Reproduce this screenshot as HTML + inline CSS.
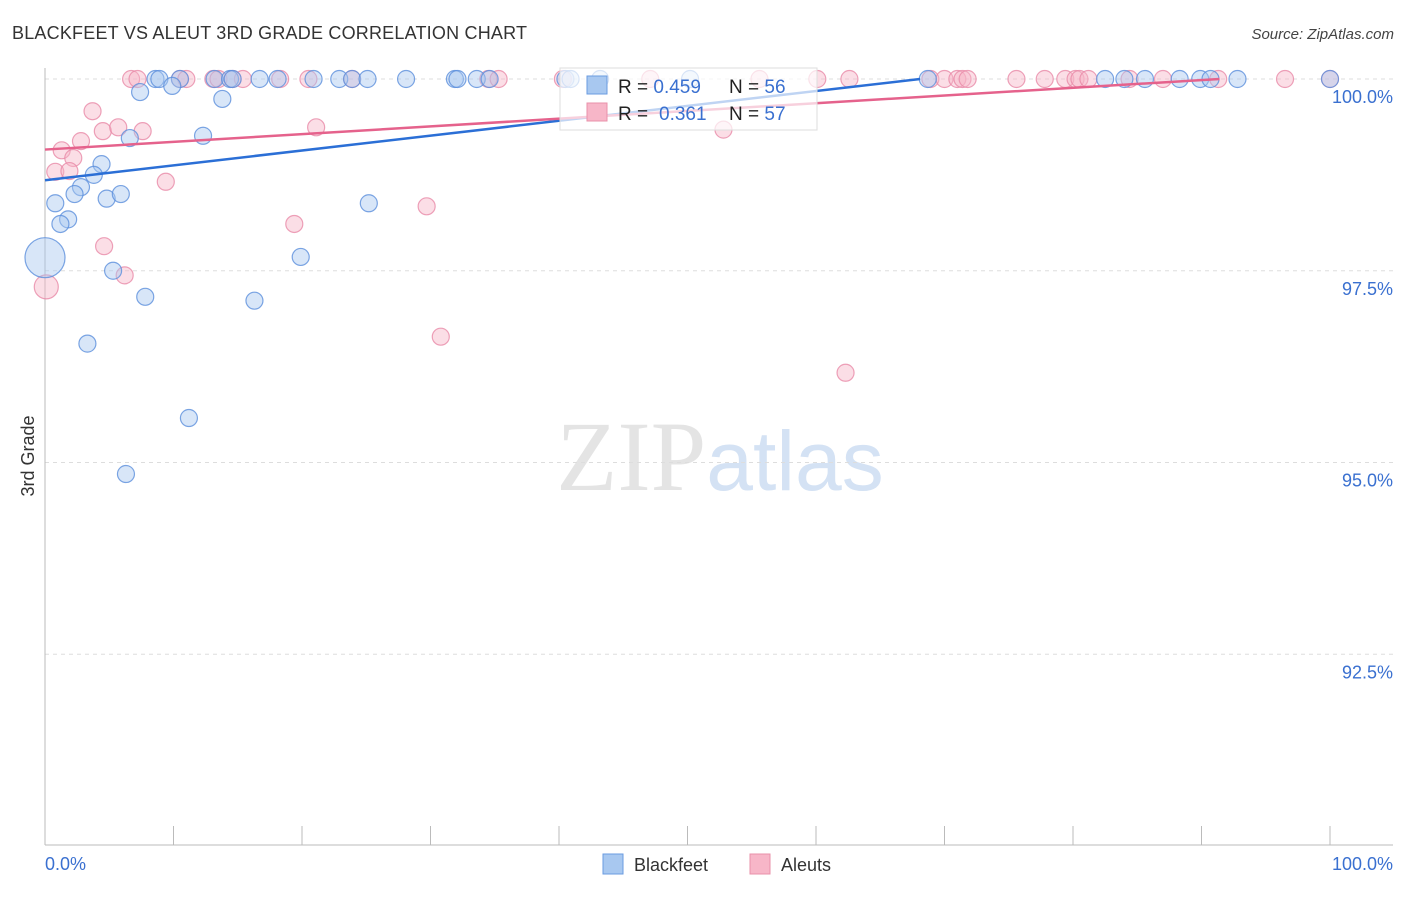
<!DOCTYPE html>
<html><head><meta charset="utf-8"><style>
body{margin:0;background:#fff;font-family:"Liberation Sans",sans-serif;}
svg text{font-family:"Liberation Sans",sans-serif;}
</style></head><body>
<svg id="chart" width="1406" height="892" xmlns="http://www.w3.org/2000/svg">
<text x="12" y="39" font-size="18" fill="#333" textLength="515">BLACKFEET VS ALEUT 3RD GRADE CORRELATION CHART</text>
<text x="1394" y="39" font-size="15" fill="#444" text-anchor="end" font-style="italic">Source: ZipAtlas.com</text>
<text x="720" y="490" font-size="100" text-anchor="middle" fill="#e4e4e4"><tspan font-family="Liberation Serif">ZIP</tspan><tspan fill="#d4e2f4" font-size="84">atlas</tspan></text>
<g id="grid"></g>
<g id="axes"></g>
<g id="pts"></g>
<g id="lines"></g>
<text transform="translate(34,456) rotate(-90)" font-size="18" fill="#333" text-anchor="middle">3rd Grade</text>
<g>
<rect x="560" y="68" width="257" height="62" fill="#fff" fill-opacity="0.7" stroke="#ddd"/>
<rect x="587" y="76" width="20" height="18" fill="#a8c8f0" stroke="#6a9be0"/>
<text x="618" y="93" font-size="19" fill="#222">R = <tspan fill="#3a70d0">0.459</tspan></text>
<text x="729" y="93" font-size="19" fill="#222">N = <tspan fill="#3a70d0">56</tspan></text>
<rect x="587" y="103" width="20" height="18" fill="#f7b6c8" stroke="#e890aa"/>
<text x="618" y="120" font-size="19" fill="#222">R = <tspan x="659" fill="#3a70d0">0.361</tspan></text>
<text x="729" y="120" font-size="19" fill="#222">N = <tspan fill="#3a70d0">57</tspan></text>
</g>
<g>
<rect x="603" y="854" width="20" height="20" fill="#a8c8f0" stroke="#6a9be0"/>
<text x="634" y="871" font-size="18" fill="#333">Blackfeet</text></g>
<g>
<rect x="750" y="854" width="20" height="20" fill="#f7b6c8" stroke="#e890aa"/>
<text x="781" y="871" font-size="18" fill="#333">Aleuts</text></g>
</svg>
<script>
const yTicks=[100,97.5,95,92.5];
const yTickLabels=["100.0%","97.5%","95.0%","92.5%"];
const bfX=[8.6,8.9,10.5,13.2,14.4,14.6,16.7,18.1,20.9,22.9,23.9,25.1,28.1,31.9,32.1,33.6,34.6,40.5,40.9,43.2,50.2,68.7,82.5,84.0,85.6,88.3,89.9,90.7,92.8,100,
7.4,9.9,13.8,12.3,6.6,4.4,3.8,2.8,2.3,4.8,5.9,0.8,1.8,1.2,0,5.3,7.8,16.3,19.9,25.2,3.3,11.2,6.3];
const bfY=[100,100,100,100,100,100,100,100,100,100,100,100,100,100,100,100,100,100,100,100,100,100,100,100,100,100,100,100,100,100,
99.83,99.91,99.74,99.26,99.23,98.89,98.75,98.59,98.50,98.44,98.50,98.38,98.17,98.11,97.67,97.50,97.16,97.11,97.68,98.38,96.55,95.58,94.85];
const alX=[6.7,7.2,10.5,11.0,13.1,13.5,14.6,15.4,18.3,20.5,23.9,34.5,35.3,40.3,47.1,55.6,60.1,62.6,68.9,70.0,71.0,71.4,71.8,75.6,77.8,79.4,80.2,80.5,81.2,84.4,87.0,91.3,96.5,100,
3.7,4.5,5.7,7.6,21.1,2.8,1.3,2.2,0.8,1.9,9.4,4.6,6.2,0.1,19.4,29.7,30.8,52.8,62.3];
const alY=[100,100,100,100,100,100,100,100,100,100,100,100,100,100,100,100,100,100,100,100,100,100,100,100,100,100,100,100,100,100,100,100,100,100,
99.58,99.32,99.37,99.32,99.37,99.19,99.07,98.97,98.79,98.80,98.66,97.82,97.44,97.29,98.11,98.34,96.64,99.34,96.17];
const bfLine=[0,98.68,68.1,100];
const alLine=[0,99.08,91.4,100];
const NS="http://www.w3.org/2000/svg";
const X=v=>45+v*12.85, Y=v=>79+(100-v)*76.7;
function mk(tag,a,p){const e=document.createElementNS(NS,tag);for(const k in a)e.setAttribute(k,a[k]);p.appendChild(e);return e;}
const grid=document.getElementById('grid'),axes=document.getElementById('axes');
yTicks.forEach((t,i)=>{
 const l=mk('line',{x1:45,x2:1393,y1:Y(t),y2:Y(t),stroke:'#ddd','stroke-dasharray':'4,4'},grid);
 
 
 const tx=mk('text',{x:1393,y:Y(t)+24,'font-size':18,fill:'#3a70d0','text-anchor':'end'},axes);
 tx.textContent=yTickLabels[i];
 
 
});
mk('line',{x1:45,x2:45,y1:68,y2:845,stroke:'#bbb'},axes);
mk('line',{x1:45,x2:1393,y1:845,y2:845,stroke:'#bbb'},axes);
for(let i=0;i<=10;i++){const t=mk('line',{x1:X(i*10),x2:X(i*10),y1:826,y2:845,stroke:'#bbb'},axes);
 
 }
let t0=mk('text',{x:45,y:870,'font-size':18,fill:'#3a70d0'},axes);t0.textContent='0.0%';


let t1=mk('text',{x:1393,y:870,'font-size':18,fill:'#3a70d0','text-anchor':'end'},axes);t1.textContent='100.0%';


const pts=document.getElementById('pts');
function draw(xs,ys,fill,stroke,name){xs.forEach((x,i)=>{
 let r=8.5; if(name==='blackfeet-point'&&x===0&&ys[i]<98)r=20; if(name==='aleut-point'&&x<0.5&&ys[i]<98)r=12;
 const c=mk('circle',{cx:X(x),cy:Y(ys[i]),r:r,fill:fill,'fill-opacity':0.45,stroke:stroke,'stroke-opacity':0.8,'stroke-width':1.2},pts);
 
 });}
draw(alX,alY,'#f7b6c8','#e88aa8','aleut-point');
draw(bfX,bfY,'#a8c8f0','#5b8fdc','blackfeet-point');
const lines=document.getElementById('lines');
const lb=mk('line',{x1:X(bfLine[0]),y1:Y(bfLine[1]),x2:X(bfLine[2]),y2:Y(bfLine[3]),stroke:'#2b6fd6','stroke-width':2.5},lines);


const la=mk('line',{x1:X(alLine[0]),y1:Y(alLine[1]),x2:X(alLine[2]),y2:Y(alLine[3]),stroke:'#e5628c','stroke-width':2.5},lines);


</script>
</body></html>
